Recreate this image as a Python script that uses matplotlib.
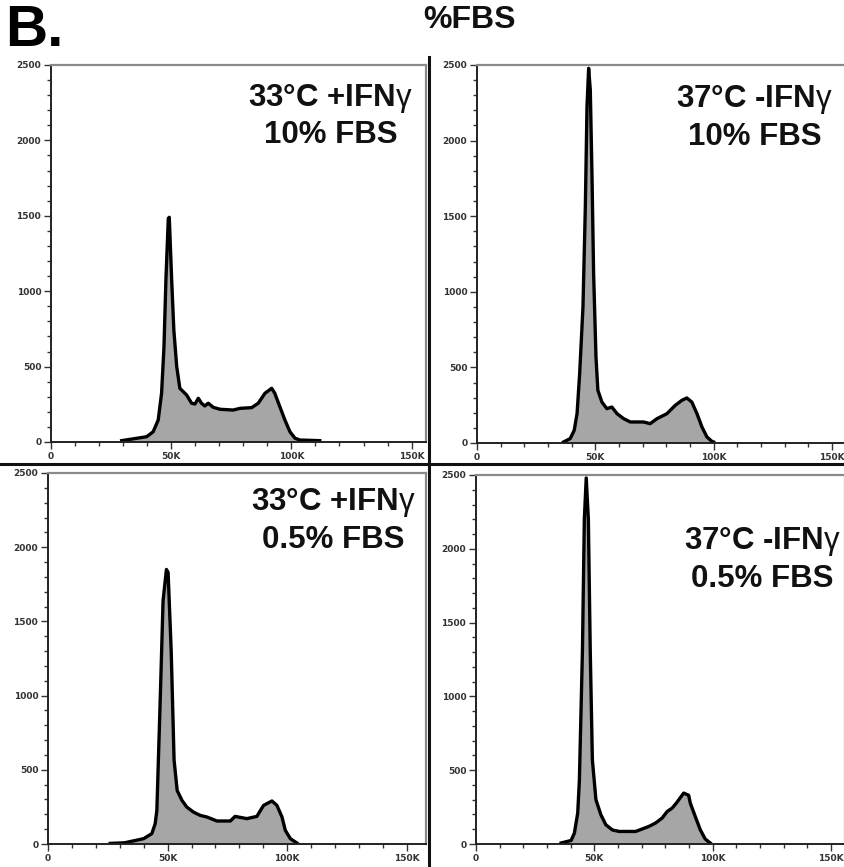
import matplotlib.pyplot as plt
import numpy as np
from matplotlib.ticker import MultipleLocator, FixedLocator, FuncFormatter
from matplotlib.lines import Line2D

plt.rcParams['font.family'] = ['Liberation Sans', 'DejaVu Sans']
plt.rcParams['mathtext.fontset'] = 'custom'
plt.rcParams['mathtext.rm'] = 'Liberation Sans'
plt.rcParams['mathtext.it'] = 'Liberation Sans'

# DNA content (K) and cell counts
tl_x = [29.4, 39.8, 42.5, 44.6, 46.0, 47.0, 47.8, 48.8, 49.2, 50.2, 51.1, 52.3, 53.6,
        56.4, 58.5, 59.9, 61.3, 62.6, 64.0, 65.4, 67.5, 70.3, 75.8, 78.6, 83.5, 86.2,
        89.0, 91.8, 93.1, 95.2, 97.3, 99.4, 101.5, 103.5, 111.8]
tl_y = [9, 35, 68, 146, 323, 632, 1074, 1483, 1490, 1074, 743, 500, 356,
        312, 257, 252, 290, 257, 239, 257, 230, 217, 212, 223, 228, 257,
        323, 356, 323, 234, 146, 68, 25, 13, 9]

tr_x = [36.6, 39.4, 41.1, 42.3, 43.4, 44.8, 45.8, 46.5, 47.2, 47.9, 48.6, 49.3, 50.3,
        51.1, 52.8, 54.9, 57.0, 59.2, 62.0, 64.8, 70.4, 73.2, 76.1, 80.3, 83.8, 86.6,
        88.7, 90.8, 93.0, 95.1, 97.2, 99.3, 100.0]
tr_y = [7, 29, 84, 194, 459, 900, 1562, 2224, 2478, 2334, 1783, 1121, 569,
        349, 271, 227, 238, 194, 161, 139, 139, 128, 161, 194, 249, 282,
        298, 271, 194, 106, 40, 11, 7]

bl_x = [26.0, 32.0, 40.0, 43.4, 44.8, 45.5, 46.9, 48.1, 49.5, 50.2, 51.5, 52.7, 54.0,
        56.0, 58.0, 60.8, 63.6, 66.4, 70.6, 76.2, 78.2, 83.1, 87.3, 90.1, 93.6, 95.7,
        97.8, 99.2, 101.3, 104.0]
bl_y = [4, 8, 36, 70, 137, 226, 970, 1640, 1850, 1830, 1300, 565, 360,
        294, 249, 215, 193, 182, 155, 155, 186, 171, 186, 260, 290, 260,
        182, 92, 36, 7]

br_x = [36.0, 40.2, 41.6, 43.0, 43.7, 45.0, 45.8, 46.6, 47.5, 48.3, 49.2, 50.7, 52.8,
        54.9, 57.7, 60.5, 67.5, 70.3, 73.1, 75.9, 78.7, 80.8, 82.9, 84.7, 87.8, 89.9,
        90.6, 92.7, 94.8, 96.9, 99.0]
br_y = [7, 24, 74, 210, 430, 1310, 2200, 2480, 2200, 1310, 570, 300, 198,
        130, 95, 85, 85, 102, 119, 142, 176, 220, 243, 277, 345, 330,
        277, 186, 97, 34, 7]

labels = [r"33°C +IFN$\gamma$" + "\n10% FBS",
          r"37°C -IFN$\gamma$" + "\n10% FBS",
          r"33°C +IFN$\gamma$" + "\n0.5% FBS",
          r"37°C -IFN$\gamma$" + "\n0.5% FBS"]
xticks = [0, 50, 100, 150]
xtick_labels = ["0", "50K", "100K", "150K"]

W, H = 844, 867
fig = plt.figure(figsize=(W / 100, H / 100), dpi=100)


def px_axes(l, r, t, b):
    return fig.add_axes([l / W, 1 - b / H, (r - l) / W, (b - t) / H])


# panel boxes in pixels: left, right, top, bottom, xmax, label position
panels = [
    (51, 426, 65, 442, 156, (0.745, 0.865)),
    (477, 846, 65, 443, 156, (0.752, 0.862)),
    (48, 426, 473, 844, 158, (0.755, 0.872)),
    (476, 845, 475, 844, 156, (0.776, 0.770)),
]
data = [(tl_x, tl_y), (tr_x, tr_y), (bl_x, bl_y), (br_x, br_y)]

for (l, r, t, b, xmax, (tx, ty)), (xs, ys), lab in zip(panels, data, labels):
    ax = px_axes(l, r, t, b)
    ax.fill_between(xs, ys, 0, color='#a6a6a6', lw=0)
    ax.plot(xs, ys, color='black', lw=2.4, solid_joinstyle='round')
    ax.set_xlim(0, xmax)
    ax.set_ylim(0, 2500)
    ax.xaxis.set_major_locator(FixedLocator(xticks))
    ax.xaxis.set_major_formatter(FuncFormatter(lambda v, p: xtick_labels[xticks.index(int(round(v)))]))
    ax.xaxis.set_minor_locator(MultipleLocator(10))
    ax.yaxis.set_major_locator(MultipleLocator(500))
    ax.yaxis.set_minor_locator(MultipleLocator(100))
    ax.tick_params(which='both', direction='out', color='#333333', width=1.0)
    ax.tick_params(which='major', length=5, labelsize=6.5, labelcolor='#333333', pad=2)
    ax.tick_params(which='minor', length=3)
    for lbl in ax.get_xticklabels() + ax.get_yticklabels():
        lbl.set_fontweight('bold')
        lbl.set_family(['DejaVu Sans'])
    for s in ['left', 'bottom']:
        ax.spines[s].set_color('#222222')
        ax.spines[s].set_linewidth(1.4)
    for s in ['top', 'right']:
        ax.spines[s].set_color('#8a8a8a')
        ax.spines[s].set_linewidth(1.6)
    ax.text(tx, ty, lab, transform=ax.transAxes, ha='center', va='center',
            multialignment='center', fontsize=22.5, fontweight='bold',
            linespacing=1.25, color='#111111')

# separating lines between the four panels
fig.add_artist(Line2D([0, 1], [1 - 464 / H, 1 - 464 / H], color='#111111', lw=2.2))
fig.add_artist(Line2D([429 / W, 429 / W], [0, 1 - 57 / H], color='#111111', lw=2.2))

fig.text(5 / W, 1 - 4 / H, "B.", fontsize=42, fontweight='bold', va='top', ha='left')
fig.text(469 / W, 1 - 20 / H, "%FBS", fontsize=23, fontweight='bold', va='center', ha='center',
         color='#111111')

fig.savefig("out.png", dpi=100)
